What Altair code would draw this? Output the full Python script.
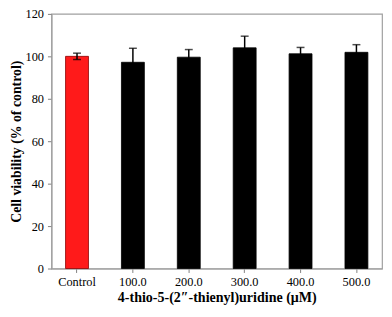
import altair as alt
import pandas as pd

categories = ["Control", "100.0", "200.0", "300.0", "400.0", "500.0"]
values = [100.0, 97.2, 99.6, 104.0, 101.2, 101.9]
errors = [1.5, 6.6, 3.6, 5.5, 3.0, 3.6]
colors = ["#ff1a1a", "#000000", "#000000", "#000000", "#000000", "#000000"]
strokes = ["#8b0000", "#000000", "#000000", "#000000", "#000000", "#000000"]

df = pd.DataFrame({
    "cat": categories,
    "val": values,
    "lo": [v - e for v, e in zip(values, errors)],
    "hi": [v + e for v, e in zip(values, errors)],
    "color": colors,
    "stroke": strokes,
})

FONT = "Liberation Serif"

x = alt.X("cat:N", sort=categories,
          scale=alt.Scale(paddingInner=0.59, paddingOuter=0.253),
          axis=alt.Axis(title="4-thio-5-(2″-thienyl)uridine (μM)", labelAngle=0,
                        labelFontSize=12.5, titleFontSize=14.2, labelPadding=3,
                        titlePadding=3, tickSize=4))
y_scale = alt.Scale(domain=[0, 120])

bars = alt.Chart(df).mark_bar(strokeWidth=0.8).encode(
    x=x,
    y=alt.Y("val:Q", scale=y_scale,
            axis=alt.Axis(title="Cell viability (% of control)", values=[0, 20, 40, 60, 80, 100, 120],
                          labelFontSize=12.5, titleFontSize=14, tickSize=4, labelPadding=4,
                          titlePadding=2)),
    color=alt.Color("color:N", scale=None),
    stroke=alt.Stroke("stroke:N", scale=None),
)

rules = alt.Chart(df).mark_rule(color="black", strokeWidth=1.5).encode(
    x=alt.X("cat:N", sort=categories),
    y=alt.Y("lo:Q", scale=y_scale),
    y2="hi:Q",
)

cap_hi = alt.Chart(df).mark_tick(color="black", thickness=1.5, size=8, orient="horizontal").encode(
    x=alt.X("cat:N", sort=categories),
    y=alt.Y("hi:Q", scale=y_scale),
)
cap_lo = alt.Chart(df).mark_tick(color="black", thickness=1.5, size=8, orient="horizontal").encode(
    x=alt.X("cat:N", sort=categories),
    y=alt.Y("lo:Q", scale=y_scale),
)

chart = alt.layer(bars, rules, cap_hi, cap_lo).properties(
    width=335, height=258,
    autosize=alt.AutoSizeParams(type="none"),
    padding={"left": 44, "top": 4, "right": 2, "bottom": 37},
).configure_view(
    stroke="#a0a0a0", strokeWidth=1.2
).configure_axis(
    grid=False, domainColor="#a0a0a0", tickColor="#808080", domainWidth=1.2,
    labelFont=FONT, titleFont=FONT, labelColor="black", titleColor="black",
    titleFontWeight="bold",
)

chart.save("out.html", embed_options={"renderer": "svg", "actions": False})
